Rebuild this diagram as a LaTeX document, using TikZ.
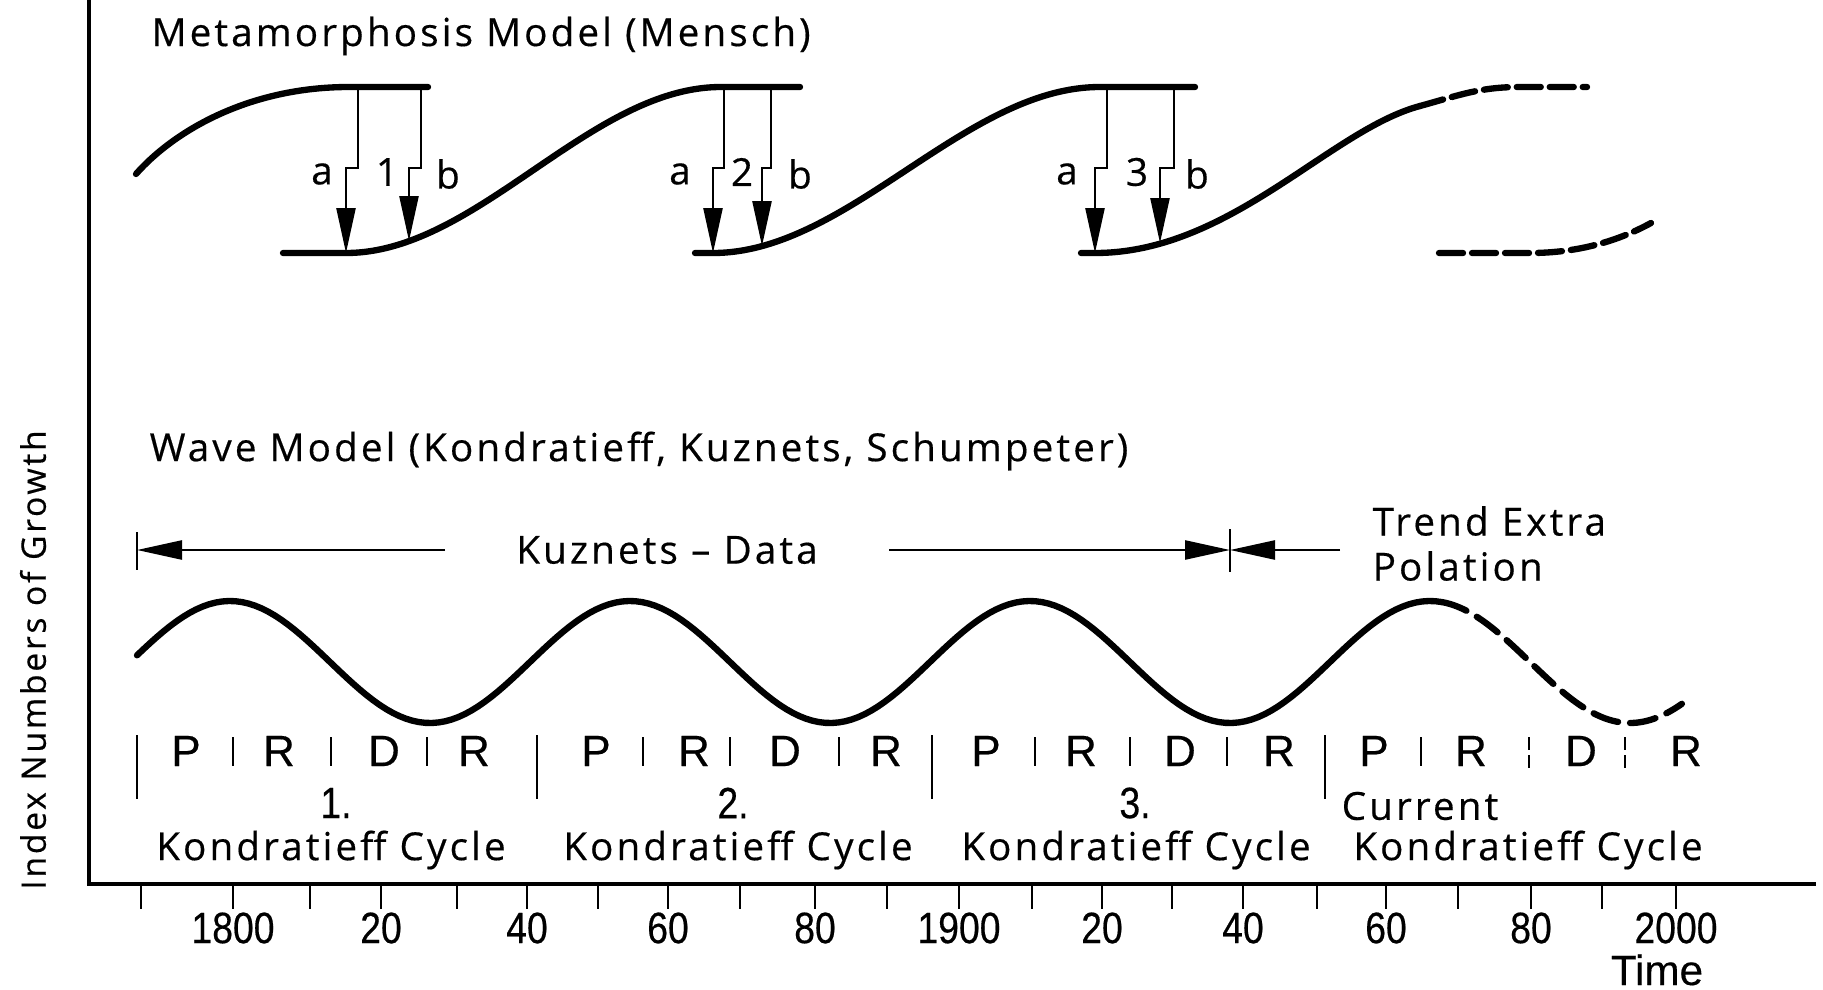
\documentclass[tikz,border=0pt]{standalone}
\usepackage{fontspec}
\setmainfont[LetterSpace=8,FakeBold=0.4]{Open Sans}
\newfontfamily\numfont[FakeStretch=0.85,FakeBold=0.4]{Liberation Sans}
\newfontfamily\phasefont[FakeBold=0.4]{Liberation Sans}
\usetikzlibrary{arrows.meta,positioning}

\begin{document}
\begin{tikzpicture}[>={Triangle[length=4.5mm,width=1.9mm]},
        curve/.style={line width=1.8pt,line cap=round},
        drop/.style={line width=0.7pt,->},
        span/.style={line width=0.7pt},
        lbl/.style={inner sep=0pt,font=\fontsize{11}{13}\selectfont},
        phase/.style={inner sep=0pt,font=\phasefont\fontsize{12.5}{14}\selectfont},
        yr/.style={inner sep=0pt,font=\numfont\fontsize{12.5}{14}\selectfont}]
        \useasboundingbox (0,0) rectangle (18.23,-9.90);

        % axes
        \coordinate (top) at (0.89,0);
        \coordinate (origin) at (0.89,-8.84);
        \coordinate (right) at (18.16,-8.84);
        \draw[line width=0.9pt] (top) -- (origin) -- (right);
        \node[inner sep=0pt,rotate=90,font=\fontsize{9.6}{11}\selectfont] (ylabel) at (0.33,-6.60) {Index Numbers of Growth};

        % metamorphosis model
        \node[lbl,anchor=west] (meta) at (1.51,-0.36) {Metamorphosis Model (Mensch)};
        \draw[curve] (1.36,-1.74) .. controls (1.75,-1.30) and (2.50,-0.87) .. (3.49,-0.87) -- (4.28,-0.87);
        \draw[curve] (2.83,-2.53) -- (3.46,-2.53) .. controls (4.77,-2.53) and (5.90,-0.87) .. (7.21,-0.87) -- (8.00,-0.87);
        \draw[curve] (6.95,-2.53) -- (7.13,-2.53) .. controls (8.48,-2.53) and (9.65,-0.87) .. (11.00,-0.87) -- (11.95,-0.87);
        \draw[curve] (10.81,-2.53) -- (10.95,-2.53) .. controls (12.30,-2.53) and (13.30,-1.30) .. (14.20,-1.06);
        \draw[curve,dash pattern=on 0.24cm off 0.09cm] (14.20,-1.06) .. controls (14.60,-0.95) and (14.80,-0.87) .. (15.20,-0.87) -- (15.87,-0.87);
        \draw[curve,dash pattern=on 0.24cm off 0.09cm] (14.39,-2.53) -- (15.30,-2.53) .. controls (15.80,-2.53) and (16.20,-2.40) .. (16.51,-2.23);

        \foreach \au/\al/\bu/\bl/\bt/\la/\ln/\lb/\n in
            {3.58/3.46/4.21/4.09/2.41/3.22/3.87/4.48/1,
             7.24/7.13/7.71/7.62/2.46/6.80/7.42/8.00/2,
             11.07/10.95/11.74/11.60/2.43/10.67/11.37/11.97/3} {
            \draw[drop] (\au,-0.87) -- (\au,-1.68) -- (\al,-1.68) -- (\al,-2.53);
            \draw[drop] (\bu,-0.87) -- (\bu,-1.68) -- (\bl,-1.68) -- (\bl,-\bt);
            \node[lbl] (a\n) at (\la,-1.74) {a};
            \node[lbl] (num\n) at (\ln,-1.72) {\n};
            \node[lbl] (b\n) at (\lb,-1.74) {b};
        }

        % wave model
        \node[lbl,anchor=west] (wave) at (1.49,-4.51) {Wave Model (Kondratieff, Kuznets, Schumpeter)};
        \coordinate (kzL) at (1.37,-5.50);
        \coordinate (kzR) at (12.30,-5.50);
        \node[lbl] (kuz) at (6.67,-5.50) {Kuznets -- Data};
        \draw[span] (1.37,-5.32) -- (1.37,-5.70);
        \draw[span] (12.30,-5.29) -- (12.30,-5.72);
        \draw[span,->] (4.45,-5.50) -- (kzL);
        \draw[span,->] (8.89,-5.50) -- (kzR);
        \draw[span,->] (13.40,-5.50) -- (kzR);
        \node[lbl,anchor=west] (trend) at (13.72,-5.21) {Trend Extra};
        \node[lbl,anchor=west] (polation) at (13.72,-5.66) {Polation};

        \draw[curve] plot[domain=1.37:14.42,samples=200] (\x,{-6.62+0.61*sin(90*(\x-1.30))});
        \draw[curve,dash pattern=on 0.26cm off 0.12cm] plot[domain=14.42:16.82,samples=60] (\x,{-6.62+0.61*sin(90*(\x-1.30))});

        % phases
        \foreach \x in {1.37,5.37,9.32,13.25}
            \draw[span] (\x,-7.35) -- (\x,-7.99);
        \foreach \x in {2.33,3.31,4.27,6.43,7.30,8.39,10.35,11.30,12.27,14.21}
            \draw[span] (\x,-7.37) -- (\x,-7.66);
        \foreach \x in {15.29,16.25}
            \draw[span,dash pattern=on 0.13cm off 0.05cm] (\x,-7.37) -- (\x,-7.68);
        \foreach \x/\p [count=\i] in {1.86/P,2.79/R,3.84/D,4.74/R,5.96/P,6.94/R,7.85/D,8.86/R,
                                      9.86/P,10.81/R,11.80/D,12.79/R,13.74/P,14.71/R,15.81/D,16.86/R}
            \node[phase] (phase\i) at (\x,-7.51) {\p};

        \node[yr] (k1) at (3.36,-8.03) {1.};
        \node[yr] (k2) at (7.33,-8.03) {2.};
        \node[yr] (k3) at (11.35,-8.03) {3.};
        \node[lbl] (k4) at (14.20,-8.06) {Current};
        \foreach \x [count=\i] in {3.31,7.38,11.36,15.28}
            \node[lbl] (cycle\i) at (\x,-8.50) {Kondratieff Cycle};

        % time axis
        \foreach \x in {1.41,2.33,3.10,3.81,4.57,5.27,5.98,6.68,7.40,8.15,8.87,
                        9.59,10.32,11.02,11.72,12.43,13.17,13.86,14.58,15.31,16.02,16.76}
            \draw[line width=0.8pt] (\x,-8.84) -- (\x,-9.09);
        \foreach \x/\t [count=\i] in {2.33/1800,3.81/20,5.27/40,6.68/60,8.15/80,9.59/1900,
                                      11.02/20,12.43/40,13.86/60,15.31/80,16.76/2000}
            \node[yr] (year\i) at (\x,-9.28) {\t};
        \node[inner sep=0pt,anchor=base,font=\phasefont\fontsize{12}{14}\selectfont] (time) at (16.57,-9.85) {Time};
\end{tikzpicture}
\end{document}
